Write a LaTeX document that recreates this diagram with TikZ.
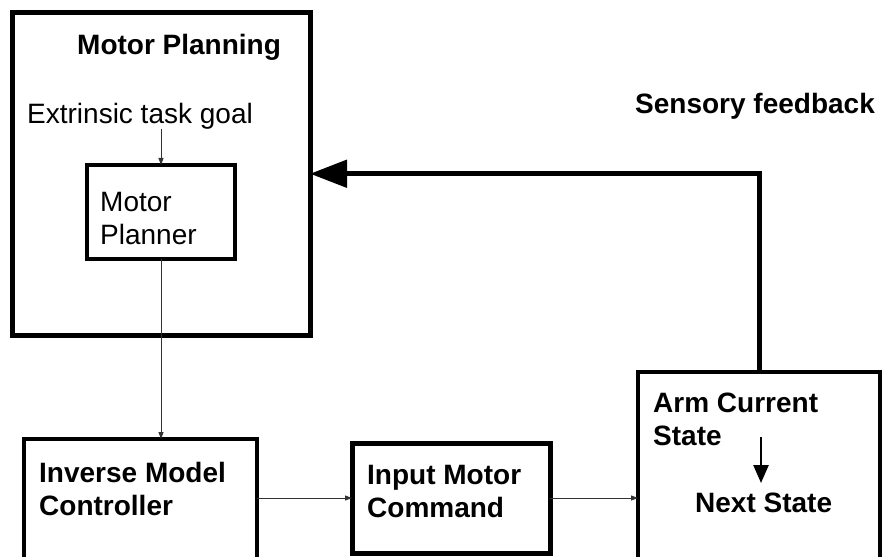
\documentclass[tikz,border=0pt]{standalone}
\usepackage{fontspec}
\setmainfont{Liberation Sans}
\usepackage{tikz}
\usetikzlibrary{arrows.meta}

\begin{document}
\begin{tikzpicture}[x=1pt,y=-1pt,
  box/.style={draw,rectangle,inner sep=0pt,outer sep=0pt},
  txt/.style={anchor=north west,inner sep=0pt,align=left,font=\fontsize{28}{33}\selectfont},
  btxt/.style={txt,font=\fontsize{28}{33}\selectfont\bfseries},
  thin arrow/.style={-{Triangle[length=7pt,width=5pt]},line width=1pt,black!80}]
\clip (0,0) rectangle (882,556);
\fill[white] (0,0) rectangle (882,556);
% boxes
\node[box,line width=5pt,minimum width=297.5pt,minimum height=322.5pt] (planning) at (161.25,173.75) {};
\node[box,line width=4.5pt,minimum width=148pt,minimum height=94pt] (planner) at (161,212) {};
\node[box,line width=4.5pt,minimum width=233pt,minimum height=161pt] (inverse) at (140.5,519.5) {};
\node[box,line width=5pt,minimum width=198pt,minimum height=110pt] (input) at (451,498) {};
\node[box,line width=4.5pt,minimum width=242pt,minimum height=228pt] (arm) at (759,486) {};
% texts
\node[btxt] (title) at (77,34) {Motor Planning};
\node[txt] (goal) at (27,103) {Extrinsic task goal};
\node[txt] (plannertext) at (100,192) {Motor\\Planner};
\node[btxt] (sensory) at (635,93) {Sensory feedback};
\node[btxt] (inversetext) at (39,462) {Inverse Model\\Controller};
\node[btxt] (inputtext) at (367,465) {Input Motor\\Command};
\node[btxt] (armtext) at (653,393) {Arm Current\\State};
\node[btxt] (next) at (695,493) {Next State};
% connectors
\draw[thin arrow] (goal.south -| planner.north) -- (planner.north);
\draw[thin arrow] (planner.south) -- (planner.south |- inverse.north);
\draw[thin arrow] (input.west -| inverse.east) -- (input.west);
\draw[thin arrow] (input.east) -- (input.east -| arm.west);
\draw[line width=5pt,-{Triangle[length=37pt,width=27pt]}] (arm.north) |- (planning.east);
\coordinate (statetop) at (761,437);
\draw[line width=2.5pt,-{Triangle[length=18pt,width=15pt]},shorten >=10pt] (statetop) -- (next.north -| statetop);
\end{tikzpicture}
\end{document}
